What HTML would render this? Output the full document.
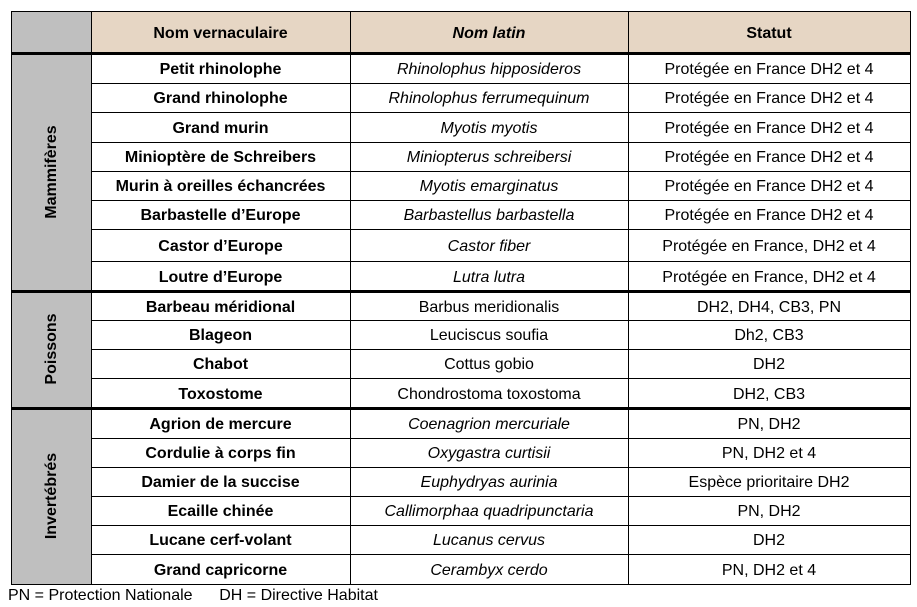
<!DOCTYPE html>
<html><head><meta charset="utf-8"><style>
body{margin:0;width:917px;height:607px;background:#fff;position:relative;font-family:"Liberation Sans",sans-serif;overflow:hidden}
.c{position:absolute;display:flex;align-items:center;justify-content:center;font-size:16px;color:#000;white-space:nowrap;padding-top:3px;box-sizing:border-box}
.b{font-weight:bold}.i{font-style:italic}
.h{position:absolute;background:#000}
.v{position:absolute;transform:translate(-50%,-50%) rotate(-90deg);font-weight:bold;font-size:16px;white-space:nowrap}
</style></head><body>
<div style="position:absolute;left:11px;top:11px;width:80px;height:573px;background:#bfbfbf"></div>
<div style="position:absolute;left:91px;top:11px;width:820px;height:42px;background:#e6d6c4"></div>
<div id="t"></div>
<script>
var rows=[
["Petit rhinolophe","Rhinolophus hipposideros","Protégée en France DH2 et 4",1],
["Grand rhinolophe","Rhinolophus ferrumequinum","Protégée en France DH2 et 4",1],
["Grand murin","Myotis myotis","Protégée en France DH2 et 4",1],
["Minioptère de Schreibers","Miniopterus schreibersi","Protégée en France DH2 et 4",1],
["Murin à oreilles échancrées","Myotis emarginatus","Protégée en France DH2 et 4",1],
["Barbastelle d’Europe","Barbastellus barbastella","Protégée en France DH2 et 4",1],
["Castor d’Europe","Castor fiber","Protégée en France, DH2 et 4",1],
["Loutre d’Europe","Lutra lutra","Protégée en France, DH2 et 4",1],
["Barbeau méridional","Barbus meridionalis","DH2, DH4, CB3, PN",0],
["Blageon","Leuciscus soufia","Dh2, CB3",0],
["Chabot","Cottus gobio","DH2",0],
["Toxostome","Chondrostoma toxostoma","DH2, CB3",0],
["Agrion de mercure","Coenagrion mercuriale","PN, DH2",1],
["Cordulie à corps fin","Oxygastra curtisii","PN, DH2 et 4",1],
["Damier de la succise","Euphydryas aurinia","Espèce prioritaire DH2",1],
["Ecaille chinée","Callimorphaa quadripunctaria","PN, DH2",1],
["Lucane cerf-volant","Lucanus cervus","DH2",1],
["Grand capricorne","Cerambyx cerdo","PN, DH2 et 4",1]];
var ys=[54,83,112,142,171,200,229,261,292,320,349,378,409,438,467,496,525,554,584];
var h='';
function cell(x0,x1,y0,y1,t,cl){h+='<div class="c '+cl+'" style="left:'+x0+'px;width:'+(x1-x0)+'px;top:'+y0+'px;height:'+(y1-y0)+'px">'+t+'</div>';}
cell(91,350,11,53,'Nom vernaculaire','b');cell(350,628,11,53,'Nom latin','b i');cell(628,910,11,53,'Statut','b');
rows.forEach(function(r,k){var y0=ys[k],y1=ys[k+1];cell(91,350,y0,y1,r[0],'b');cell(350,628,y0,y1,r[1],r[3]?'i':'');cell(628,910,y0,y1,r[2],'');
 if(k>0 && [8,12].indexOf(k)<0) h+='<div class="h" style="left:91px;width:820px;top:'+y0+'px;height:1px"></div>';});
[[52,3],[290,3],[407,3]].forEach(function(a){h+='<div class="h" style="left:11px;width:900px;top:'+a[0]+'px;height:'+a[1]+'px"></div>';});
h+='<div class="h" style="left:11px;width:900px;top:11px;height:1px"></div>';
h+='<div class="h" style="left:11px;width:900px;top:584px;height:1px"></div>';
[11,91,350,628,910].forEach(function(x){h+='<div class="h" style="left:'+x+'px;width:1px;top:11px;height:574px"></div>';});
h+='<div class="v" style="left:52px;top:172px">Mammifères</div>';
h+='<div class="v" style="left:52px;top:349px">Poissons</div>';
h+='<div class="v" style="left:52px;top:496px">Invertébrés</div>';
h+='<div style="position:absolute;left:8px;top:587px;font-size:16px;white-space:pre">PN = Protection Nationale      DH = Directive Habitat</div>';
document.getElementById('t').innerHTML=h;
</script>
</body></html>
